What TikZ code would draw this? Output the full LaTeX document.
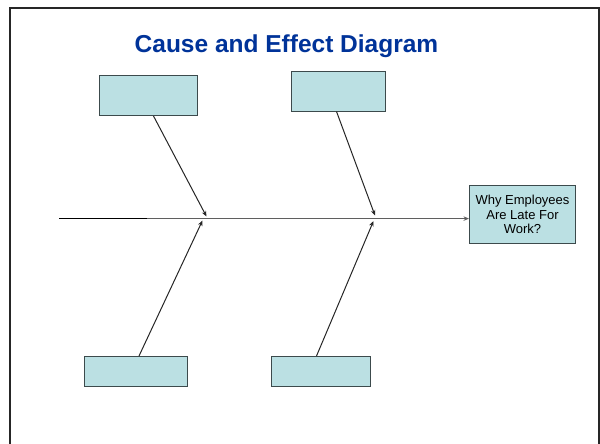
\documentclass[tikz,border=0pt]{standalone}
\usepackage{fontspec}
\setmainfont{Liberation Sans}
\usetikzlibrary{arrows.meta}
\definecolor{boxfill}{RGB}{187,224,227}
\definecolor{boxline}{RGB}{60,74,76}
\definecolor{titleblue}{RGB}{0,51,153}
\definecolor{spinegray}{RGB}{95,95,95}
\begin{document}
\begin{tikzpicture}[x=1pt,y=-1pt,
  cause/.style={draw=boxline,line width=1pt,fill=boxfill,inner sep=0pt,anchor=north west},
  effect/.style={cause,align=center,font=\fontsize{13}{14.5}\selectfont},
  bone/.style={draw=black!85,line width=1pt,-{Stealth[length=5.5pt,width=4.5pt]}},
  spine/.style={draw=spinegray,line width=1.2pt,-{Stealth[length=5.5pt,width=4.5pt]}}]
  \useasboundingbox (0,0) rectangle (600,444);
  % slide frame (open at the bottom edge)
  \begin{scope}
    \clip (0,0) rectangle (600,444);
    \draw[line width=2pt,black!85] (10,450) -- (10,8) -- (598.5,8) -- (598.5,450);
  \end{scope}
  % title
  \node[anchor=base,text=titleblue,font=\fontsize{24.5}{28}\bfseries\selectfont] (title) at (286.5,52.4) {Cause and Effect Diagram};
  % cause boxes
  \node[cause,minimum width=98pt,minimum height=40pt] (tl) at (99,75) {};
  \node[cause,minimum width=94pt,minimum height=39.5pt] (tm) at (291,71) {};
  \node[cause,minimum width=103pt,minimum height=30pt] (bl) at (84,356) {};
  \node[cause,minimum width=99pt,minimum height=30pt] (bm) at (271,356) {};
  % effect box
  \node[effect,minimum width=106pt,minimum height=58pt] (eff) at (469,185) {Why Employees\\Are Late For\\Work?};
  % spine
  \coordinate (tail) at (59,218);
  \coordinate (tailend) at (147,218);
  \coordinate (head) at (64,218.6);
  \draw[spine] (head) -- (head -| eff.west);
  \draw[line width=1pt,black] (tail) -- (tailend);
  % joints on the spine
  \coordinate (j1a) at (206.5,216.5);
  \coordinate (j1b) at (202.5,220.5);
  \coordinate (j2a) at (375,215.5);
  \coordinate (j2b) at (373.5,221);
  % bones
  \draw[bone] ([xshift=5pt]tl.south) -- (j1a);
  \draw[bone] ([xshift=3pt]bl.north) -- (j1b);
  \draw[bone] ([xshift=-2pt]tm.south) -- (j2a);
  \draw[bone] ([xshift=-4.5pt]bm.north) -- (j2b);
\end{tikzpicture}
\end{document}
